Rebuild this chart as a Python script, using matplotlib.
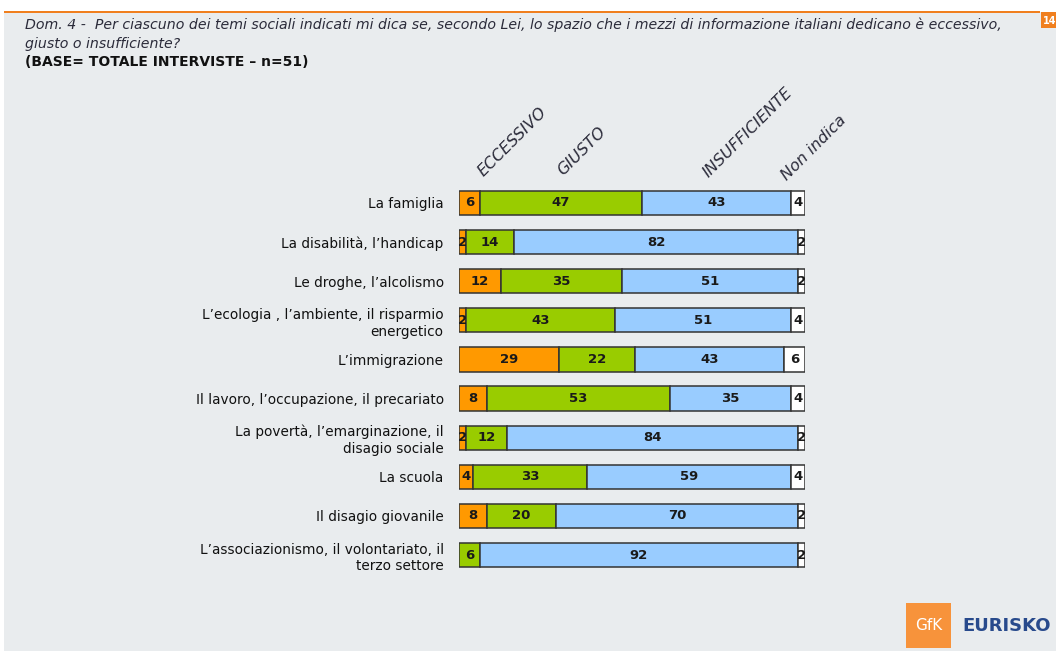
#####################################################################################
# IMPORTS
#####################################################################################

import matplotlib.pyplot as plt
from matplotlib.patches import Rectangle

#####################################################################################
# DATA
#####################################################################################

categories = [
    "La famiglia",
    "La disabilità, l’handicap",
    "Le droghe, l’alcolismo",
    "L’ecologia , l’ambiente, il risparmio\nenergetico",
    "L’immigrazione",
    "Il lavoro, l’occupazione, il precariato",
    "La povertà, l’emarginazione, il\ndisagio sociale",
    "La scuola",
    "Il disagio giovanile",
    "L’associazionismo, il volontariato, il\nterzo settore",
]

eccessivo = [6, 2, 12, 2, 29, 8, 2, 4, 8, 0]
giusto = [47, 14, 35, 43, 22, 53, 12, 33, 20, 6]
insufficiente = [43, 82, 51, 51, 43, 35, 84, 59, 70, 92]
non_indica = [4, 2, 2, 4, 6, 4, 2, 4, 2, 2]

series_names = ["ECCESSIVO", "GIUSTO", "INSUFFICIENTE", "Non indica"]
series_colors = ["#FF9900", "#99CC00", "#99CCFF", "#FFFFFF"]

#####################################################################################
# FIGURE
#####################################################################################

W, H = 1056, 651
fig = plt.figure(figsize=(W / 100, H / 100), dpi=100)
fig.patch.set_facecolor("white")

def fx(px):
	return px / W

def fy(py):
	return 1 - py / H

# grey panel, orange top rule, page number box
fig.patches.append(Rectangle((fx(4), 0), 1, fy(12), transform=fig.transFigure,
                             facecolor="#E9ECEE", edgecolor="none", zorder=-10))
fig.patches.append(Rectangle((fx(4), fy(13)), fx(1036), 2 / H, transform=fig.transFigure,
                             facecolor="#F07F1E", edgecolor="none", zorder=-5))
fig.patches.append(Rectangle((fx(1041), fy(28)), fx(16), 16 / H, transform=fig.transFigure,
                             facecolor="#F07F1E", edgecolor="none", zorder=-5))
fig.text(fx(1043), fy(21), "14", color="white", fontsize=7, fontweight="bold", va="center")

# title
title_color = "#2B2B3A"
fig.text(fx(25), fy(25), "Dom. 4 -  Per ciascuno dei temi sociali indicati mi dica se, secondo Lei, lo spazio "
         "che i mezzi di informazione italiani dedicano è eccessivo,",
         fontsize=10.2, style="italic", color=title_color, va="center")
fig.text(fx(25), fy(44), "giusto o insufficiente?", fontsize=10.2, style="italic",
         color=title_color, va="center")
fig.text(fx(25), fy(62), "(BASE= TOTALE INTERVISTE – n=51)", fontsize=10, fontweight="bold",
         color="#111111", va="center")

#####################################################################################
# BARS
#####################################################################################

ax = fig.add_axes([fx(459), fy(574.6), fx(805) - fx(459), fy(183.4) - fy(574.6)])
ax.set_facecolor("none")
ax.set_zorder(5)

rows = list(range(len(categories)))
left = [0] * len(categories)
for vals, color in zip([eccessivo, giusto, insufficiente, non_indica], series_colors):
	ax.barh(rows, vals, left=left, height=0.62, color=color, edgecolor="#333333", linewidth=1.1)
	for r, v, l in zip(rows, vals, left):
		if v > 0:
			ax.text(l + v / 2, r, str(v), ha="center", va="center", fontsize=9.5,
			        fontweight="bold", color="#1A1A1A")
	left = [l + v for l, v in zip(left, vals)]

ax.set_xlim(0, 100)
ax.set_ylim(len(categories) - 0.5, -0.5)
ax.set_yticks(rows)
ax.set_yticklabels(categories, fontsize=9.8, color="#111111", linespacing=1.25)
ax.tick_params(axis="y", length=0, pad=11)
ax.set_xticks([])
for s in ax.spines.values():
	s.set_visible(False)

# rotated column headers
header_pos = [(484, 177), (563, 176), (709, 178), (787, 181)]
for name, (px, py) in zip(series_names, header_pos):
	fig.text(fx(px), fy(py), name, rotation=45, rotation_mode="anchor", ha="left",
	         va="baseline", fontsize=11.5, style="italic", color="#2B2B3A")

#####################################################################################
# LOGO
#####################################################################################

fig.patches.append(Rectangle((fx(906), fy(648)), fx(45), 45 / H, transform=fig.transFigure,
                             facecolor="#F7933B", edgecolor="none", zorder=-5))
fig.text(fx(928.5), fy(626), "GfK", color="white", fontsize=11, ha="center", va="center")
fig.text(fx(962), fy(626), "EURISKO", color="#284A8C", fontsize=13, fontweight="bold",
         va="center")

fig.savefig("out.png", dpi=100)
